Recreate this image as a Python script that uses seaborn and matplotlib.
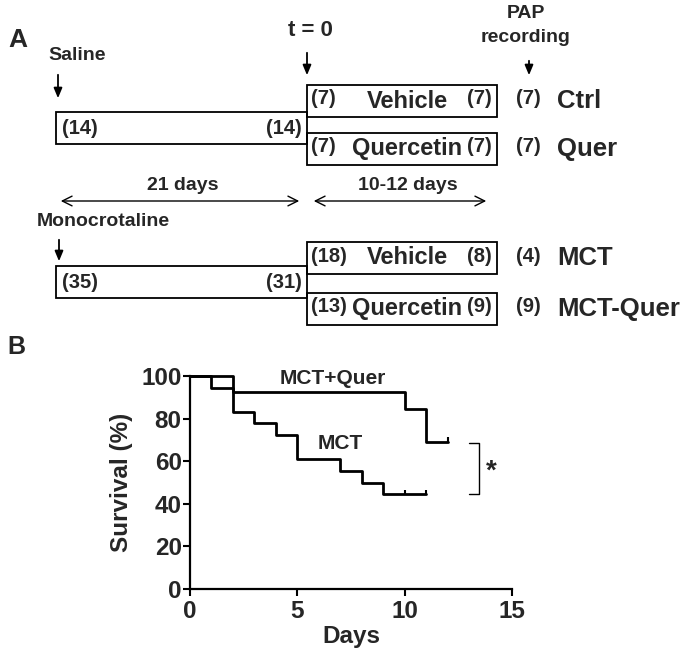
import numpy as np
import pandas as pd
import matplotlib
matplotlib.use('Agg')
import matplotlib.pyplot as plt
from matplotlib.patches import Rectangle
import seaborn as sns

# --- Data: study design (panel A) ---
induction = ['Saline', 'Monocrotaline']
n_induction_start = [14, 35]
n_induction_end = [14, 31]
treatments = ['Vehicle', 'Quercetin', 'Vehicle', 'Quercetin']
n_treat_start = [7, 7, 18, 13]
n_treat_end = [7, 7, 8, 9]
n_pap = [7, 7, 4, 9]
groups = ['Ctrl', 'Quer', 'MCT', 'MCT-Quer']
periods = ['21 days', '10-12 days']

# --- Data: survival (panel B) ---
mct_days = [0, 1, 2, 3, 4, 5, 7, 8, 9, 11]
mct_surv = [100, 94.4, 83.3, 77.8, 72.2, 61.1, 55.6, 50.0, 44.4, 44.4]
quer_days = [0, 2, 10, 11, 12]
quer_surv = [100, 92.3, 84.6, 69.2, 69.2]
censor_mct_days = [10, 11]
censor_quer_days = [12]

df_mct = pd.DataFrame({'Days': mct_days, 'Survival': mct_surv})
df_quer = pd.DataFrame({'Days': quer_days, 'Survival': quer_surv})

sns.set_style('white')
plt.rcParams['font.family'] = ['Liberation Sans', 'DejaVu Sans']
plt.rcParams['font.weight'] = 'bold'

fig = plt.figure(figsize=(6.92, 6.55), dpi=100)

# --- Panel A: schematic drawn in pixel space ---
ax_a = fig.add_axes([0, 0, 1, 1])
ax_a.set_xlim(0, 692)
ax_a.set_ylim(655, 0)
ax_a.axis('off')

ind_y = [128, 282]      # centres of induction bars
treat_y = [101, 149, 258, 309]
box_h = 32
bw = 1.3
nfs = 14.5

for i in range(2):
    yc = ind_y[i]
    ax_a.add_patch(Rectangle((56, yc - box_h / 2), 251, box_h, fill=False, lw=bw, ec='black'))
    ax_a.text(62, yc, f'({n_induction_start[i]})', fontsize=nfs, fontweight='bold', va='center', ha='left')
    ax_a.text(302, yc, f'({n_induction_end[i]})', fontsize=nfs, fontweight='bold', va='center', ha='right')

for i in range(4):
    yc = treat_y[i]
    ax_a.add_patch(Rectangle((307, yc - box_h / 2), 190, box_h, fill=False, lw=bw, ec='black'))
    ax_a.text(311, yc - 2, f'({n_treat_start[i]})', fontsize=nfs, fontweight='bold', va='center', ha='left')
    ax_a.text(407, yc, treatments[i], fontsize=17, fontweight='bold', va='center', ha='center')
    ax_a.text(492, yc - 2, f'({n_treat_end[i]})', fontsize=nfs, fontweight='bold', va='center', ha='right')
    ax_a.text(528, yc - 2, f'({n_pap[i]})', fontsize=nfs, fontweight='bold', va='center', ha='center')
    ax_a.text(557, yc, groups[i], fontsize=18.5, fontweight='bold', va='center', ha='left')

# labels and arrows
ax_a.text(18, 40, 'A', fontsize=19, fontweight='bold', va='center', ha='center')
ax_a.text(48, 55, induction[0], fontsize=14, fontweight='bold', va='center', ha='left')
ax_a.text(37, 221, induction[1], fontsize=14, fontweight='bold', va='center', ha='left')
ax_a.text(310, 30, 't = 0', fontsize=16, fontweight='bold', va='center', ha='center')
ax_a.text(526, 13, 'PAP', fontsize=14, fontweight='bold', va='center', ha='center')
ax_a.text(526, 38, 'recording', fontsize=14, fontweight='bold', va='center', ha='center')

down = dict(arrowstyle='-|>,head_length=0.6,head_width=0.25', color='black', lw=1.3)
for x, y0, y1 in [(58, 72, 101), (307, 50, 78), (529, 58, 78), (59, 237, 264)]:
    ax_a.annotate('', xy=(x, y1), xytext=(x, y0), arrowprops=down)

both = dict(arrowstyle='<->,head_length=0.7,head_width=0.35', color='black', lw=1.0)
ax_a.annotate('', xy=(302, 201), xytext=(58, 201), arrowprops=both)
ax_a.annotate('', xy=(489, 201), xytext=(311, 201), arrowprops=both)
ax_a.text(183, 185, periods[0], fontsize=14, fontweight='bold', va='center', ha='center')
ax_a.text(408, 185, periods[1], fontsize=14, fontweight='bold', va='center', ha='center')
ax_a.text(16, 347, 'B', fontsize=18, fontweight='bold', va='center', ha='center')

# --- Panel B: Kaplan-Meier survival ---
ax = fig.add_axes([190 / 692, 66 / 655, 322 / 692, 213 / 655])
sns.lineplot(data=df_mct, x='Days', y='Survival', drawstyle='steps-post', estimator=None,
             color='black', lw=2, ax=ax, clip_on=False)
sns.lineplot(data=df_quer, x='Days', y='Survival', drawstyle='steps-post', estimator=None,
             color='black', lw=2, ax=ax, clip_on=False)
ax.vlines(censor_mct_days, mct_surv[-1], mct_surv[-1] + 2, color='black', lw=1.5)
ax.vlines(censor_quer_days, quer_surv[-1], quer_surv[-1] + 2, color='black', lw=1.5)

ax.set_xlim(0, 15)
ax.set_ylim(0, 100)
ax.set_xticks([0, 5, 10, 15])
ax.set_yticks([0, 20, 40, 60, 80, 100])
ax.tick_params(left=True, bottom=True, direction='out', length=5, width=1.5,
               labelsize=17.5, pad=1, color='black')
ax.tick_params(axis='x', pad=3)
for lab in ax.get_xticklabels() + ax.get_yticklabels():
    lab.set_fontweight('bold')
for s in ['top', 'right']:
    ax.spines[s].set_visible(False)
for s in ['left', 'bottom']:
    ax.spines[s].set_linewidth(1.6)
    ax.spines[s].set_color('black')
ax.set_xlabel('Days', fontsize=17.5, fontweight='bold', labelpad=1)
ax.set_ylabel('Survival (%)', fontsize=17.5, fontweight='bold', labelpad=6)

ax.text(6.65, 99, 'MCT+Quer', fontsize=15, fontweight='bold', ha='center', va='center')
ax.text(7.0, 68.5, 'MCT', fontsize=15, fontweight='bold', ha='center', va='center')

# significance bracket
ax.plot([13.0, 13.45, 13.45, 13.0], [68.6, 68.6, 44.4, 44.4], color='black', lw=1.0, clip_on=False)
ax.text(14.05, 55, '*', fontsize=20, fontweight='bold', ha='center', va='center')

fig.savefig('out.png', dpi=100)
